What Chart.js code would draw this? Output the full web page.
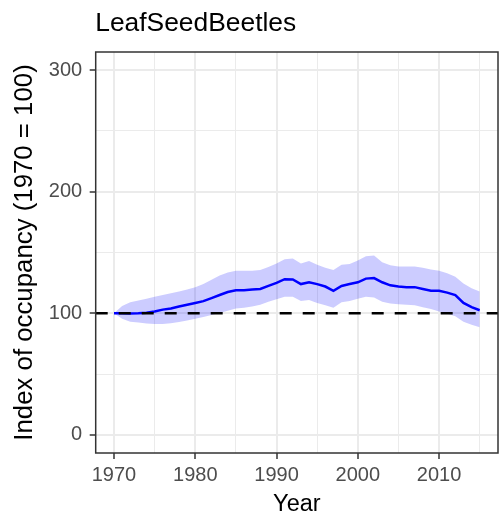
<!DOCTYPE html>
<html>
<head>
<meta charset="utf-8">
<script src="https://cdn.jsdelivr.net/npm/chart.js@4.4.1/dist/chart.umd.min.js"></script>
<style>
  html, body { margin: 0; padding: 0; background: #fff; }
  #wrap { width: 502px; height: 519px; }
</style>
</head>
<body>
<div id="wrap"><canvas id="chart" width="502" height="519"></canvas></div>
<script>
// ── Data ──────────────────────────────────────────────────────────────────────
const years = [
  1970, 1971, 1972, 1973, 1974, 1975, 1976, 1977, 1978, 1979,
  1980, 1981, 1982, 1983, 1984, 1985, 1986, 1987, 1988, 1989,
  1990, 1991, 1992, 1993, 1994, 1995, 1996, 1997, 1998, 1999,
  2000, 2001, 2002, 2003, 2004, 2005, 2006, 2007, 2008, 2009,
  2010, 2011, 2012, 2013, 2014, 2015,
];
const occupancy = [
  100, 100, 99.8, 100, 100.5, 101.5, 103, 104, 105.5, 107,
  108.5, 110, 112.5, 115, 117.5, 119, 119, 119.5, 120, 122.5,
  125, 128, 127.8, 124, 125.5, 124, 122, 118.5, 122.5, 124,
  125.5, 128.5, 129, 125.5, 123, 122, 121.5, 121.5, 120, 118.5,
  118.5, 117, 115, 108.5, 105, 102.5,
];
const upperCI = [
  100, 106, 109, 110.5, 112, 113.5, 115, 116.5, 118, 119.5,
  121.5, 124, 127.5, 131, 133.5, 135, 135, 135, 135.5, 138,
  141, 144.5, 145, 141, 143, 140, 137.5, 135.5, 140, 140.5,
  143.5, 147, 147.5, 142, 139.5, 138.5, 138.5, 138.5, 137.5, 136,
  135, 133, 130, 124.5, 120.5, 118,
];
const lowerCI = [
  100, 95.5, 93, 92.3, 91.5, 91.2, 91.2, 91.8, 92.8, 94,
  95.5, 97, 98.5, 100.2, 102, 104, 104.5, 105.5, 107, 109.5,
  111.5, 113.5, 113.5, 110, 111, 108.5, 106.5, 104.5, 109, 110,
  112, 113.5, 113, 109.5, 108, 107.5, 107, 106.5, 105, 103.5,
  101.5, 99.5, 97.5, 93, 90.5, 88.5,
];
const baseline = 100;

const xTicks = [1970, 1975, 1980, 1985, 1990, 1995, 2000, 2005, 2010, 2015];
const yTicks = [0, 50, 100, 150, 200, 250, 300];
const xRange = [1967.75, 2017.25];
const yRange = [-15, 315];

const TITLE = 'LeafSeedBeetles';
const FONT = "'Liberation Sans', Arial, sans-serif";

const toPts = vals => vals.map((v, i) => ({ x: years[i], y: v }));

// ── Plugin: plot title + panel border (ggplot style) ──────────────────────────
const ggDecor = {
  id: 'ggDecor',
  afterDraw(chart) {
    const { ctx, chartArea: a } = chart;
    ctx.save();
    ctx.strokeStyle = '#333333';
    ctx.lineWidth = 1.5;
    ctx.strokeRect(a.left, a.top, a.right - a.left, a.bottom - a.top);
    ctx.fillStyle = '#000';
    ctx.font = '26.4px ' + FONT;
    ctx.textBaseline = 'alphabetic';
    ctx.textAlign = 'left';
    ctx.fillText(TITLE, a.left - 0.5, 31);
    ctx.restore();
  },
};

new Chart(document.getElementById('chart').getContext('2d'), {
  type: 'line',
  data: {
    datasets: [
      {
        label: 'baseline',
        data: [{ x: xRange[0], y: baseline }, { x: xRange[1], y: baseline }],
        borderColor: '#000',
        borderWidth: 2.5,
        borderDash: [12, 11],
        pointRadius: 0,
        fill: false,
      },
      {
        label: 'index',
        data: toPts(occupancy),
        borderColor: '#0000ff',
        borderWidth: 2.5,
        pointRadius: 0,
        fill: false,
      },
      {
        label: 'upper',
        data: toPts(upperCI),
        borderWidth: 0,
        borderColor: 'rgba(0,0,0,0)',
        backgroundColor: 'rgba(0,0,255,0.2)',
        pointRadius: 0,
        fill: '+1',
      },
      {
        label: 'lower',
        data: toPts(lowerCI),
        borderWidth: 0,
        borderColor: 'rgba(0,0,0,0)',
        pointRadius: 0,
        fill: false,
      },
    ],
  },
  options: {
    animation: false,
    responsive: false,
    devicePixelRatio: 1,
    layout: { padding: { left: 0, right: 4, top: 52, bottom: 0 } },
    plugins: { legend: { display: false }, tooltip: { enabled: false } },
    scales: {
      x: {
        type: 'linear',
        min: xRange[0],
        max: xRange[1],
        afterBuildTicks: s => { s.ticks = xTicks.map(v => ({ value: v })); },
        afterFit: s => { s.height = 66; },
        ticks: {
          autoSkip: false,
          maxRotation: 0,
          padding: 4,
          color: '#4d4d4d',
          font: { family: FONT, size: 20 },
          callback: v => (v % 10 === 0 ? String(v) : ''),
        },
        grid: {
          color: '#ebebeb',
          lineWidth: c => (c.tick && c.tick.value % 10 === 0 ? 2 : 1),
          tickColor: c => (c.tick && c.tick.value % 10 === 0 ? '#333333' : 'rgba(0,0,0,0)'),
          tickLength: 6,
          tickWidth: 1.5,
        },
        border: { display: false },
        title: {
          display: true,
          text: 'Year',
          color: '#000',
          font: { family: FONT, size: 23.5 },
          padding: { top: 0, bottom: 0 },
        },
      },
      y: {
        type: 'linear',
        min: yRange[0],
        max: yRange[1],
        afterBuildTicks: s => { s.ticks = yTicks.map(v => ({ value: v })); },
        afterFit: s => { s.width = 95.7; },
        ticks: {
          padding: 7.5,
          color: '#4d4d4d',
          font: { family: FONT, size: 20 },
          callback: v => (v % 100 === 0 ? String(v) : ''),
        },
        grid: {
          color: '#ebebeb',
          lineWidth: c => (c.tick && c.tick.value % 100 === 0 ? 2 : 1),
          tickColor: c => (c.tick && c.tick.value % 100 === 0 ? '#333333' : 'rgba(0,0,0,0)'),
          tickLength: 6,
          tickWidth: 1.5,
        },
        border: { display: false },
        title: {
          display: true,
          text: 'Index of occupancy (1970 = 100)',
          color: '#000',
          font: { family: FONT, size: 25.8 },
          padding: { top: 9.7, bottom: 0 },
        },
      },
    },
  },
  plugins: [ggDecor],
});
</script>
</body>
</html>
